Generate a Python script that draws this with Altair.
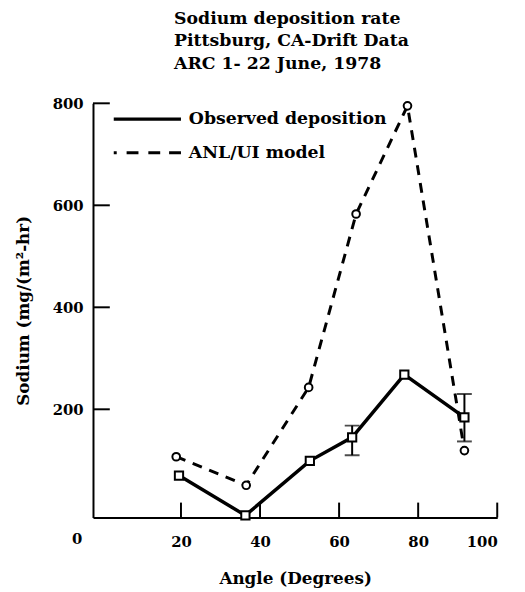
import altair as alt
import pandas as pd

# ---- data ----
obs_angle = [19.5, 36.3, 52.6, 63.3, 76.5, 91.7]
obs_value = [70, -8, 99, 145, 268, 184]

mod_angle = [18.8, 36.5, 52.3, 64.3, 77.3, 91.7]
mod_value = [107, 51, 243, 583, 795, 119]

err_angle = [63.3, 91.7]
err_low = [110, 137]
err_high = [168, 230]

x_ticks = [20, 40, 60, 80, 100]
y_ticks = [200, 400, 600, 800]

legend_labels = ["Observed deposition", "ANL/UI model"]

FONT = "DejaVu Serif"
W, H = 409, 419
XDOM = [-2.25, 100]
YDOM = [-12, 800]

obs = pd.DataFrame({"angle": obs_angle, "value": obs_value})
mod = pd.DataFrame({"angle": mod_angle, "value": mod_value})
err = pd.DataFrame({"angle": err_angle, "lo": err_low, "hi": err_high})

xs = alt.Scale(domain=XDOM, nice=False, zero=False)
ys = alt.Scale(domain=YDOM, nice=False, zero=False)

x_axis = alt.Axis(values=x_ticks, tickSize=0, labelFont=FONT, labelFontSize=15,
                  labelFontWeight="bold", labelColor="black", labelPadding=17,
                  domainColor="black", domainWidth=2, grid=False,
                  title="Angle (Degrees)", titleFont=FONT, titleFontSize=17,
                  titleFontWeight="bold", titleColor="black", titlePadding=22)
y_axis = alt.Axis(values=y_ticks, tickSize=0, labelFont=FONT, labelFontSize=15,
                  labelFontWeight="bold", labelColor="black", labelPadding=10,
                  domainColor="black", domainWidth=2, grid=False,
                  title="Sodium (mg/(m²-hr)", titleFont=FONT, titleFontSize=17,
                  titleFontWeight="bold", titleColor="black", titlePadding=20)

base_obs = alt.Chart(obs)
base_mod = alt.Chart(mod)

mod_line = base_mod.mark_line(color="black", strokeWidth=3, strokeDash=[10, 8]).encode(
    x=alt.X("angle:Q", scale=xs, axis=x_axis),
    y=alt.Y("value:Q", scale=ys, axis=y_axis),
)
obs_line = base_obs.mark_line(color="black", strokeWidth=3.5).encode(
    x=alt.X("angle:Q", scale=xs),
    y=alt.Y("value:Q", scale=ys),
)
err_rule = alt.Chart(err).mark_rule(color="black", strokeWidth=2).encode(
    x=alt.X("angle:Q", scale=xs), y=alt.Y("lo:Q", scale=ys), y2="hi:Q")
err_hi = alt.Chart(err).mark_tick(color="black", thickness=2, size=15, orient="horizontal").encode(
    x=alt.X("angle:Q", scale=xs), y=alt.Y("hi:Q", scale=ys))
err_lo = alt.Chart(err).mark_tick(color="black", thickness=2, size=15, orient="horizontal").encode(
    x=alt.X("angle:Q", scale=xs), y=alt.Y("lo:Q", scale=ys))
mod_pts = base_mod.mark_point(shape="circle", size=60, filled=False, color="black",
                              fill="white", fillOpacity=1, strokeWidth=2).encode(
    x=alt.X("angle:Q", scale=xs), y=alt.Y("value:Q", scale=ys))
obs_pts = base_obs.mark_point(shape="square", size=70, filled=False, color="black",
                              fill="white", fillOpacity=1, strokeWidth=2).encode(
    x=alt.X("angle:Q", scale=xs), y=alt.Y("value:Q", scale=ys))

# inward ticks
xt = alt.Chart(pd.DataFrame({"t": x_ticks})).mark_rule(color="black", strokeWidth=2).encode(
    x=alt.X("t:Q", scale=xs), y=alt.value(H), y2=alt.value(H - 15))
yt = alt.Chart(pd.DataFrame({"t": y_ticks})).mark_rule(color="black", strokeWidth=2).encode(
    y=alt.Y("t:Q", scale=ys), x=alt.value(0), x2=alt.value(17))

# origin label
zero = alt.Chart(pd.DataFrame({"t": ["0"]})).mark_text(
    font=FONT, fontSize=15, fontWeight="bold", color="black", baseline="middle").encode(
    text="t:N", x=alt.value(-16), y=alt.value(H + 22))

# legend
leg = pd.DataFrame({"label": legend_labels, "row": [0, 1]})
leg_solid = alt.Chart(leg[leg.row == 0]).mark_rule(color="black", strokeWidth=3.5).encode(
    x=alt.value(21), x2=alt.value(89), y=alt.value(16))
leg_dash = alt.Chart(leg[leg.row == 1]).mark_rule(color="black", strokeWidth=3,
                                                  strokeDash=[3, 10, 12, 10, 12, 9, 12, 10]).encode(
    x=alt.value(21), x2=alt.value(89), y=alt.value(50))
leg_text1 = alt.Chart(leg[leg.row == 0]).mark_text(
    font=FONT, fontSize=17.5, fontWeight="bold", color="black", align="left", baseline="middle").encode(
    text="label:N", x=alt.value(97), y=alt.value(16))
leg_text2 = alt.Chart(leg[leg.row == 1]).mark_text(
    font=FONT, fontSize=17.5, fontWeight="bold", color="black", align="left", baseline="middle").encode(
    text="label:N", x=alt.value(97), y=alt.value(50))

chart = alt.layer(
    mod_line, obs_line, err_rule, err_hi, err_lo, mod_pts, obs_pts, xt, yt, zero,
    leg_solid, leg_dash, leg_text1, leg_text2,
).properties(
    width=W, height=H,
    title=alt.TitleParams(
        text=["Sodium deposition rate", "Pittsburg, CA-Drift Data", "ARC 1- 22 June, 1978"],
        font=FONT, fontSize=17.5, fontWeight="bold", color="black",
        anchor="start", frame="group", dx=82, lineHeight=23, offset=24,
    ),
    autosize=alt.AutoSizeParams(type="none"),
    padding={"left": 86, "top": 93, "right": 20, "bottom": 70},
).configure_view(stroke=None)

chart.save("out.html", embed_options={"renderer": "svg", "actions": False})
